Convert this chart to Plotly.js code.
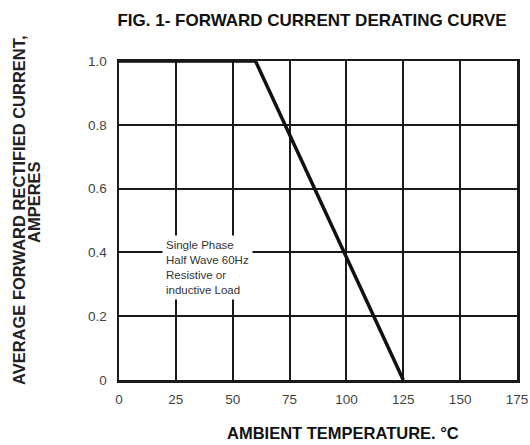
<!DOCTYPE html>
<html>
<head>
<meta charset="utf-8">
<script src="https://cdn.plot.ly/plotly-3.0.1.min.js"></script>
<style>html,body{margin:0;padding:0;background:#fff;}#chart{width:530px;height:445px;}</style>
</head>
<body>
<div id="chart"></div>
<script>
// Derating curve data
const temperatureC = [0, 60, 125];
const currentA = [1.0, 1.0, 0];
const xTickVals = [0, 25, 50, 75, 100, 125, 150, 175];
const xTickText = ['0', '25', '50', '75', '100', '125', '150', '175'];
const yTickVals = [0, 0.2, 0.4, 0.6, 0.8, 1.0];
const yTickText = ['0', '0.2', '0.4', '0.6', '0.8', '1.0'];
const noteLines = ['Single Phase', 'Half Wave 60Hz', 'Resistive or', 'inductive Load'];
const yTitleLines = ['AVERAGE FORWARD RECTIFIED CURRENT,', 'AMPERES'];
const xTitle = 'AMBIENT TEMPERATURE. °C';

const FONT = 'Liberation Sans, Arial, sans-serif';

const trace = {
  x: temperatureC, y: currentA, type: 'scatter', mode: 'lines',
  line: {color: '#111', width: 3.5}, cliponaxis: false, hoverinfo: 'skip'
};

const annotations = [];
// y-axis title, two tightly spaced rotated lines
const yTitleX = [19, 34];
const yTitleY = [210, 202];
yTitleLines.forEach((t, i) => {
  annotations.push({
    xref: 'paper', yref: 'paper',
    x: (yTitleX[i] - 119) / 398, y: (380 - yTitleY[i]) / 319,
    xanchor: 'center', yanchor: 'middle', textangle: -90,
    text: '<b>' + t + '</b>', showarrow: false,
    font: {family: FONT, size: 16.5, color: '#222'}
  });
});
// x-axis title (offset right of plot centre, as in the reference)
annotations.push({
  xref: 'paper', yref: 'paper', x: (343 - 119) / 398, y: (380 - 433) / 319,
  xanchor: 'center', yanchor: 'middle', text: '<b>' + xTitle + '</b>', showarrow: false,
  font: {family: FONT, size: 16.5, color: '#111'}
});
// note text in a white box that masks the grid
annotations.push({
  xref: 'x', yref: 'paper', x: 18.9, y: (380 - 267) / 319,
  xanchor: 'left', yanchor: 'middle', text: noteLines.join('<br>'), align: 'left',
  showarrow: false, bgcolor: '#fff', borderpad: 3,
  font: {family: FONT, size: 11.5, color: '#333'}
});

const layout = {
  width: 530, height: 445,
  margin: {l: 119, r: 13, t: 61, b: 65},
  paper_bgcolor: '#fff', plot_bgcolor: '#fff',
  showlegend: false,
  font: {family: FONT, color: '#333', size: 12},
  title: {
    text: '<b>FIG. 1- FORWARD CURRENT DERATING CURVE</b>',
    font: {family: FONT, size: 17, color: '#111'},
    x: 312/530, xanchor: 'center', y: 1 - 20/445, yanchor: 'middle'
  },
  xaxis: {
    range: [0, 175], tickvals: xTickVals, ticktext: xTickText,
    showgrid: true, gridcolor: '#1a1a1a', gridwidth: 2,
    showline: true, linecolor: '#1a1a1a', linewidth: 2.5, mirror: true,
    zeroline: false, ticks: '', ticklabelstandoff: 5,
    tickfont: {family: FONT, size: 13.5, color: '#444'},
    automargin: false, fixedrange: true
  },
  yaxis: {
    range: [0, 1.0], tickvals: yTickVals, ticktext: yTickText,
    showgrid: true, gridcolor: '#1a1a1a', gridwidth: 2,
    showline: true, linecolor: '#1a1a1a', linewidth: 2.5, mirror: true,
    zeroline: false, ticks: '', ticklabelstandoff: 7,
    tickfont: {family: FONT, size: 13.5, color: '#444'},
    automargin: false, fixedrange: true
  },
  annotations: annotations
};

Plotly.newPlot('chart', [trace], layout, {displayModeBar: false, staticPlot: true});
</script>
</body>
</html>
